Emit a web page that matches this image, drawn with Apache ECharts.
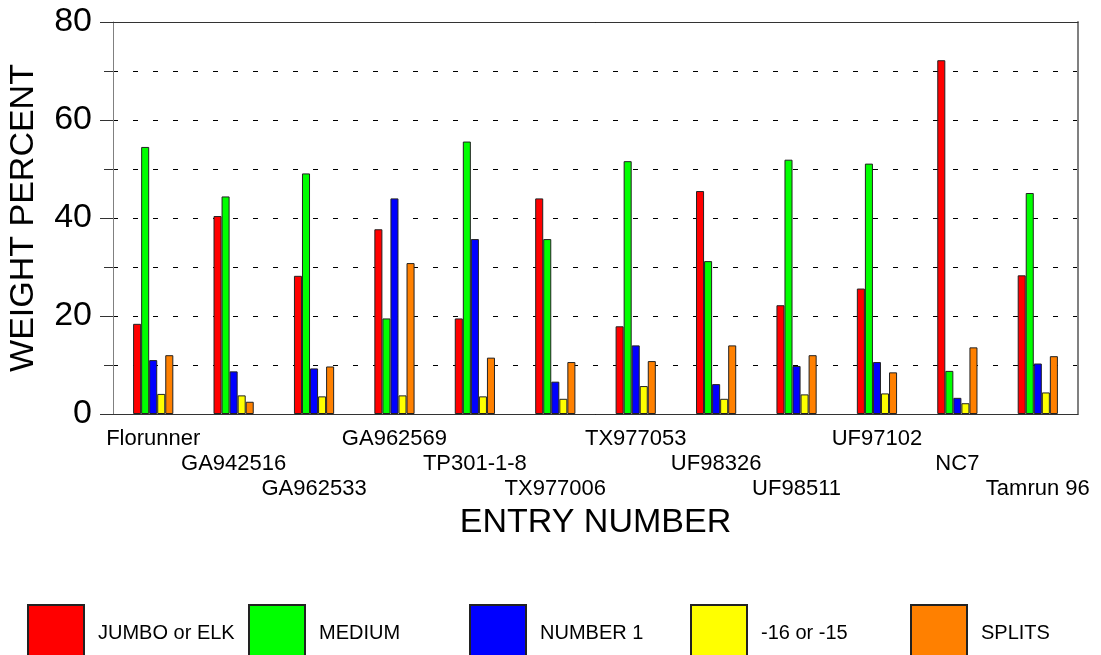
<!DOCTYPE html>
<html>
<head>
<meta charset="utf-8">
<script src="https://cdn.jsdelivr.net/npm/echarts@6/dist/echarts.min.js"></script>
<style>
  html, body { margin: 0; padding: 0; background: #fff; }
  #chart { width: 1101px; height: 655px; }
</style>
</head>
<body>
<div id="chart"></div>
<script>
const entries = ['Florunner', 'GA942516', 'GA962533', 'GA962569', 'TP301-1-8', 'TX977006',
  'TX977053', 'UF98326', 'UF98511', 'UF97102', 'NC7', 'Tamrun 96'];
const seriesNames = ['JUMBO or ELK', 'MEDIUM', 'NUMBER 1', '-16 or -15', 'SPLITS'];
const jumbo   = [18.4, 40.4, 28.2, 37.7, 19.5, 44.0, 17.9, 45.5, 22.2, 25.6, 72.2, 28.3];
const medium  = [54.5, 44.4, 49.1, 19.5, 55.6, 35.7, 51.6, 31.2, 51.9, 51.1, 8.8, 45.1];
const number1 = [11.0, 8.7, 9.3, 44.0, 35.7, 6.6, 14.0, 6.1, 9.8, 10.6, 3.3, 10.3];
const sixteen = [4.1, 3.8, 3.6, 3.8, 3.6, 3.1, 5.7, 3.1, 4.0, 4.2, 2.2, 4.4];
const splits  = [12.0, 2.5, 9.7, 30.8, 11.5, 10.6, 10.8, 14.0, 12.0, 8.5, 13.6, 11.8];
const yTicks = [0, 20, 40, 60, 80];

const colors = ['#ff0000', '#00ff00', '#0000ff', '#ffff00', '#ff8000'];
const values = [jumbo, medium, number1, sixteen, splits];
const font = 'Liberation Sans, Arial, sans-serif';
const dash = { color: '#000', width: 1, type: [5, 15] };

const chart = echarts.init(document.getElementById('chart'));

// one legend per item so the boxes sit on an even spacing
const legendLeft = [27, 248, 469, 690, 910];
const legends = seriesNames.map((name, i) => ({
  data: [{ name: name, icon: 'rect' }],
  left: legendLeft[i],
  top: 604,
  padding: 0,
  itemWidth: 56,
  itemHeight: 57,
  selectedMode: false,
  textStyle: { fontFamily: font, fontSize: 20, color: '#000', padding: [0, 0, 0, 9] }
}));

chart.setOption({
  animation: false,
  color: colors,
  legend: legends,
  grid: { left: 113, right: 23, top: 22, bottom: 241, outerBoundsMode: 'none', containLabel: false },
  xAxis: [{
    type: 'category',
    data: entries,
    name: 'ENTRY NUMBER',
    nameLocation: 'middle',
    nameGap: 90,
    nameTextStyle: { fontFamily: font, fontSize: 34, color: '#000' },
    axisLine: { lineStyle: { color: '#333', width: 1 } },
    axisTick: { show: false },
    axisLabel: {
      interval: 0,
      margin: 12,
      fontFamily: font,
      fontSize: 22,
      color: '#000',
      lineHeight: 25,
      formatter: (v, i) => '\n'.repeat(i % 3) + v
    }
  }, {
    type: 'category',
    position: 'top',
    data: entries,
    axisLine: { onZero: false, lineStyle: { color: '#333', width: 1 } },
    axisTick: { show: false },
    axisLabel: { show: false }
  }],
  yAxis: [{
    type: 'value',
    min: yTicks[0],
    max: yTicks[yTicks.length - 1],
    interval: 20,
    name: 'WEIGHT PERCENT',
    nameLocation: 'middle',
    nameGap: 72,
    nameTextStyle: { fontFamily: font, fontSize: 34, color: '#000' },
    axisLine: { show: true, onZero: false, lineStyle: { color: '#808080', width: 1 } },
    axisTick: { show: true, length: 13, lineStyle: { color: '#333' } },
    minorTick: { show: true, splitNumber: 2, length: 9, lineStyle: { color: '#333' } },
    axisLabel: { margin: 21, fontFamily: font, fontSize: 34, color: '#000' },
    splitLine: { show: true, lineStyle: dash },
    minorSplitLine: { show: true, lineStyle: dash }
  }, {
    type: 'value',
    position: 'right',
    min: 0,
    max: 80,
    interval: 20,
    axisLine: { show: true, onZero: false, lineStyle: { color: '#808080', width: 2 } },
    axisTick: { show: false },
    axisLabel: { show: false },
    splitLine: { show: false }
  }],
  series: seriesNames.map((name, i) => ({
    name: name,
    type: 'bar',
    data: values[i],
    barGap: 0,
    barCategoryGap: '50%',
    itemStyle: { color: colors[i], borderColor: '#222', borderWidth: 1 }
  }))
});

window.addEventListener('resize', function() {
  chart.resize();
});
</script>
</body>
</html>
